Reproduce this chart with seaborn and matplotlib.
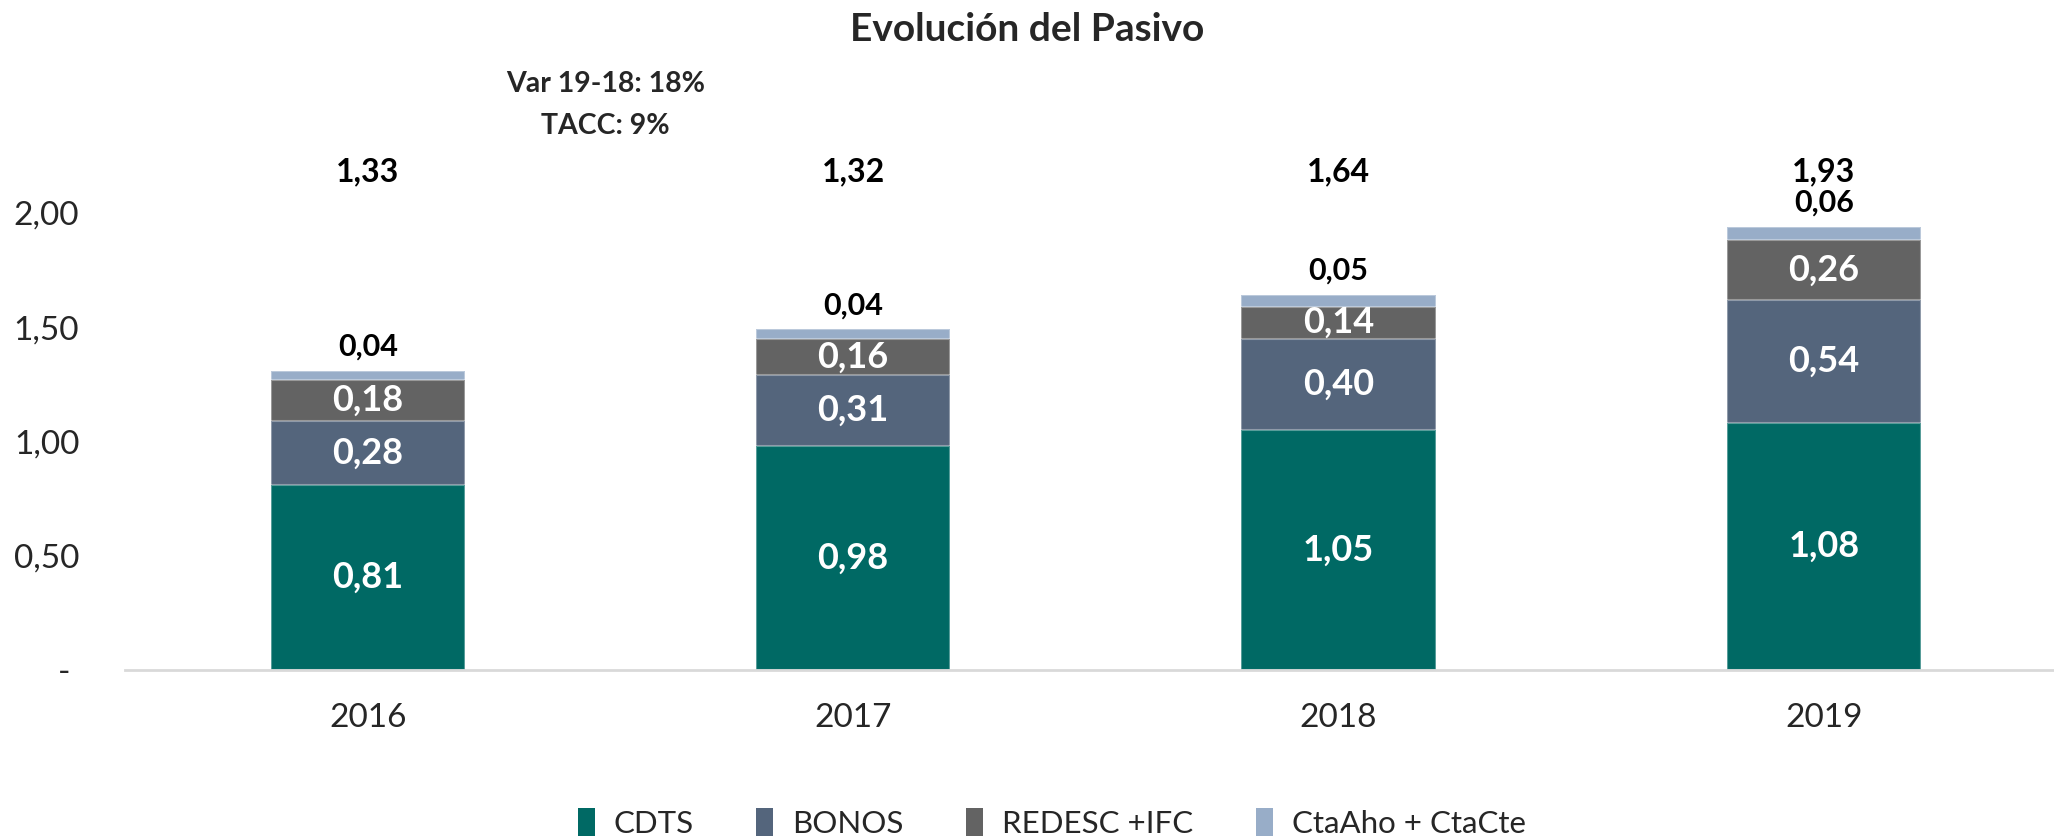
import matplotlib
matplotlib.use("Agg")
import matplotlib.pyplot as plt
import seaborn as sns
import numpy as np
import pandas as pd
from matplotlib.patches import Patch

years = ["2016", "2017", "2018", "2019"]
cdts = [0.81, 0.98, 1.05, 1.08]
bonos = [0.28, 0.31, 0.40, 0.54]
redesc = [0.18, 0.16, 0.14, 0.26]
ctas = [0.04, 0.04, 0.05, 0.06]
totals_text = ["1,33", "1,32", "1,64", "1,93"]
series_names = ["CDTS", "BONOS", "REDESC +IFC", "CtaAho + CtaCte"]
colors = ["#006964", "#54657c", "#636363", "#98adc8"]
yticks = [0.0, 0.5, 1.0, 1.5, 2.0]
ytick_labels = ["- ", "0,50", "1,00", "1,50", "2,00"]
title = "Evolución del Pasivo"
note_lines = ["Var 19-18: 18%", "TACC: 9%"]

sns.set_style("white")
plt.rcParams["font.family"] = ["Lato", "DejaVu Sans"]

fig = plt.figure(figsize=(20.54, 8.39), dpi=100)
ax = fig.add_axes([0.0609, 0.2014, 0.9391, 0.5586])

layers = [cdts, bonos, redesc, ctas]
cum = np.cumsum(np.array(layers), axis=0)
df = pd.DataFrame({"year": years})
# draw from top layer down so that each lower cumulative bar overlays
for i in range(len(layers) - 1, -1, -1):
    df["h"] = cum[i]
    sns.barplot(data=df, x="year", y="h", color=colors[i], width=0.4,
                saturation=1, edgecolor=(1, 1, 1, 0.35), linewidth=1.5, ax=ax)

fmt = lambda v: f"{v:.2f}".replace(".", ",")
for j in range(len(years)):
    for i in range(3):
        bottom = cum[i - 1][j] if i > 0 else 0.0
        ax.text(j, bottom + layers[i][j] / 2, fmt(layers[i][j]), ha="center", va="center",
                color="white", fontsize=26, fontweight="bold")
    ax.text(j, cum[3][j] + 0.105, fmt(ctas[j]), ha="center", va="center",
            color="black", fontsize=22, fontweight="bold")
    ax.text(j, 2.178, totals_text[j], ha="center", va="center", color="black",
            fontsize=23, fontweight="bold", clip_on=False)

ax.text(0.49, 2.563, note_lines[0], ha="center", va="center", fontsize=20.5,
        fontweight="bold", clip_on=False)
ax.text(0.49, 2.38, note_lines[1], ha="center", va="center", fontsize=20.5,
        fontweight="bold", clip_on=False)

ax.set_xlim(-0.5, 3.474)
ax.set_ylim(0, 2.05)
ax.set_yticks(yticks)
ax.set_yticklabels(ytick_labels, fontsize=24)
ax.tick_params(axis="y", length=0, pad=33)
ax.tick_params(axis="x", length=0, pad=24, labelsize=24)
ax.set_xlabel("")
ax.set_ylabel("")
for s in ["top", "right", "left"]:
    ax.spines[s].set_visible(False)
ax.spines["bottom"].set_color("#d9d9d9")
ax.spines["bottom"].set_linewidth(2)

fig.text(0.5, 0.965, title, ha="center", va="center", fontsize=28, fontweight="bold")

handles = [Patch(facecolor=c, edgecolor="none") for c in colors]
fig.legend(handles, series_names, loc="center", bbox_to_anchor=(0.512, 0.019), ncol=4,
           frameon=False, fontsize=22.5, handlelength=0.55, handleheight=1.0,
           handletextpad=0.6, columnspacing=2.0)

fig.savefig("out.png", dpi=100)
